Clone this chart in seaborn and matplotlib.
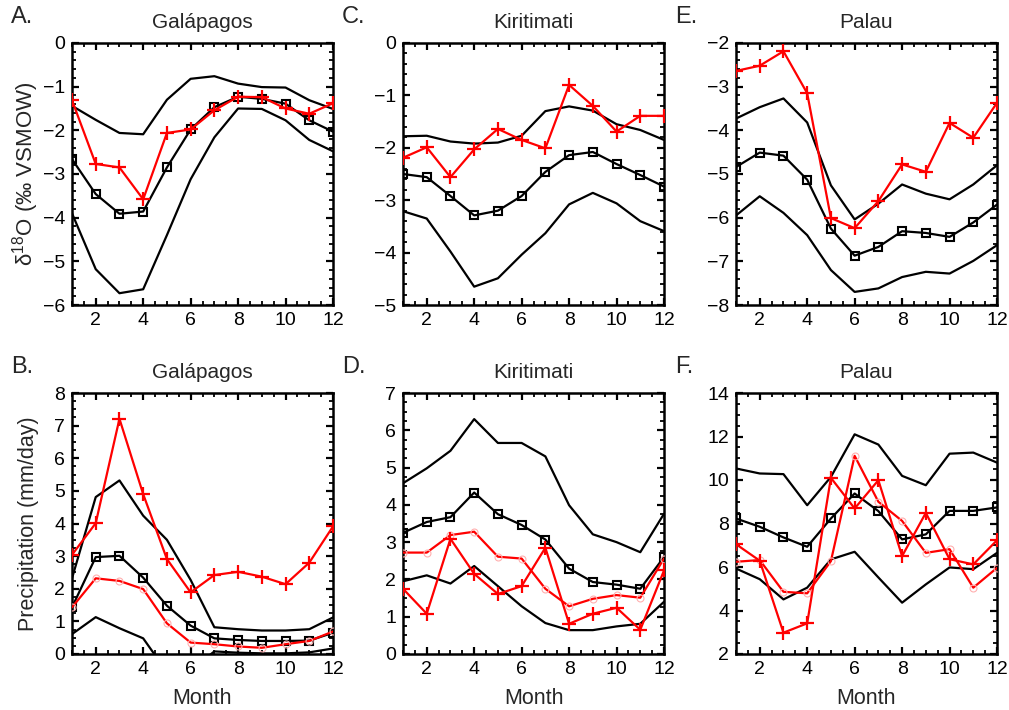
import numpy as np
import pandas as pd
import matplotlib
matplotlib.use("Agg")
import matplotlib.pyplot as plt
from matplotlib.ticker import MultipleLocator
import seaborn as sns

months = list(range(1, 13))

# ---- delta 18O (per mil VSMOW) ----
gal_d18o_hi = [-1.44, -1.76, -2.06, -2.09, -1.30, -0.82, -0.76, -0.93, -1.01, -1.02, -1.31, -1.51]
gal_d18o_mean = [-2.66, -3.46, -3.91, -3.86, -2.85, -1.98, -1.47, -1.23, -1.28, -1.39, -1.77, -2.03]
gal_d18o_lo = [-3.90, -5.18, -5.73, -5.64, -4.40, -3.12, -2.16, -1.50, -1.51, -1.77, -2.22, -2.48]
gal_d18o_obs = [-1.31, -2.77, -2.85, -3.58, -2.06, -1.98, -1.54, -1.23, -1.24, -1.50, -1.62, -1.38]

kir_d18o_hi = [-1.78, -1.77, -1.88, -1.92, -1.90, -1.77, -1.30, -1.21, -1.29, -1.55, -1.66, -1.85]
kir_d18o_mean = [-2.50, -2.56, -2.92, -3.29, -3.20, -2.92, -2.46, -2.14, -2.08, -2.31, -2.52, -2.74]
kir_d18o_lo = [-3.21, -3.35, -3.98, -4.65, -4.49, -4.04, -3.63, -3.08, -2.86, -3.06, -3.40, -3.59]
kir_d18o_obs = [-2.19, -1.99, -2.56, -2.03, -1.64, -1.85, -2.01, -0.80, -1.20, -1.69, -1.39, -1.39]

pal_d18o_hi = [-3.73, -3.47, -3.27, -3.82, -5.26, -6.04, -5.68, -5.24, -5.45, -5.58, -5.24, -4.80]
pal_d18o_mean = [-4.84, -4.51, -4.58, -5.13, -6.25, -6.87, -6.67, -6.31, -6.35, -6.44, -6.11, -5.70]
pal_d18o_lo = [-5.95, -5.51, -5.89, -6.40, -7.20, -7.70, -7.62, -7.36, -7.24, -7.28, -6.99, -6.63]
pal_d18o_obs = [-2.64, -2.52, -2.19, -3.15, -6.01, -6.24, -5.62, -4.78, -4.95, -3.83, -4.17, -3.37]

# ---- precipitation (mm/day) ----
gal_pr_hi = [2.32, 4.81, 5.32, 4.24, 3.50, 2.27, 0.82, 0.76, 0.72, 0.72, 0.76, 1.12]
gal_pr_mean = [1.43, 2.97, 3.01, 2.34, 1.48, 0.87, 0.48, 0.43, 0.40, 0.40, 0.41, 0.65]
gal_pr_lo = [0.61, 1.13, 0.79, 0.48, -0.55, -0.50, 0.08, 0.04, 0.02, 0.02, 0.05, 0.17]
gal_pr_clim = [1.43, 2.32, 2.24, 1.99, 0.94, 0.35, 0.30, 0.23, 0.19, 0.30, 0.40, 0.69]
gal_pr_obs = [3.04, 4.01, 7.21, 4.90, 2.91, 1.89, 2.42, 2.52, 2.37, 2.14, 2.80, 3.91]

kir_pr_hi = [4.58, 4.98, 5.45, 6.30, 5.66, 5.66, 5.30, 3.99, 3.21, 3.00, 2.73, 3.76]
kir_pr_mean = [3.25, 3.54, 3.67, 4.33, 3.75, 3.46, 3.07, 2.29, 1.93, 1.86, 1.75, 2.60]
kir_pr_lo = [1.95, 2.11, 1.89, 2.36, 1.82, 1.28, 0.83, 0.64, 0.64, 0.74, 0.81, 1.40]
kir_pr_clim = [2.72, 2.72, 3.19, 3.28, 2.61, 2.56, 1.75, 1.28, 1.48, 1.58, 1.51, 2.56]
kir_pr_obs = [1.75, 1.08, 3.09, 2.15, 1.61, 1.82, 2.85, 0.81, 1.08, 1.24, 0.65, 2.24]

pal_pr_hi = [10.53, 10.30, 10.27, 8.84, 10.14, 12.10, 11.63, 10.19, 9.76, 11.21, 11.26, 10.80]
pal_pr_mean = [8.23, 7.85, 7.36, 6.93, 8.23, 9.38, 8.57, 7.27, 7.50, 8.58, 8.58, 8.74]
pal_pr_lo = [5.93, 5.44, 4.51, 5.05, 6.35, 6.70, 5.52, 4.36, 5.20, 5.98, 5.90, 6.65]
pal_pr_clim = [6.24, 6.32, 4.86, 4.79, 6.27, 11.11, 9.00, 8.12, 6.65, 6.82, 5.05, 5.96]
pal_pr_obs = [7.05, 6.29, 2.98, 3.41, 10.10, 8.69, 9.99, 6.50, 8.49, 6.36, 6.12, 7.23]

sns.set_style("ticks")
plt.rcParams["font.family"] = ["Liberation Sans", "DejaVu Sans"]
plt.rcParams["mathtext.fontset"] = "custom"
plt.rcParams["mathtext.rm"] = "Liberation Sans"
plt.rcParams["mathtext.it"] = "Liberation Sans:italic"

fig = plt.figure(figsize=(10.09, 7.10), dpi=100)

W = 1009.0
H = 710.0
lefts = [72, 403, 736]
aw = 261
top_row = (43, 305)
bot_row = (393, 654)


def make_ax(col, row):
    y0, y1 = row
    return fig.add_axes([lefts[col] / W, 1 - y1 / H, aw / W, (y1 - y0) / H])


def draw(ax, x, y, color, marker=None, ms=6, mfc="none", mec=None, mew=1.5, zorder=2):
    df = pd.DataFrame({"Month": x, "value": y})
    kw = {}
    if marker is not None:
        kw = dict(marker=marker, markersize=ms, markerfacecolor=mfc,
                  markeredgecolor=mec if mec is not None else color,
                  markeredgewidth=mew)
    sns.lineplot(data=df, x="Month", y="value", ax=ax, color=color,
                 linewidth=1.6, zorder=zorder, **kw)


def style_ax(ax, ylim, ymajor, yminor, title, letter, xlabel):
    ax.set_xlim(1, 12)
    ax.set_ylim(*ylim)
    ax.xaxis.set_major_locator(MultipleLocator(2))
    ax.xaxis.set_minor_locator(MultipleLocator(0.5))
    ax.yaxis.set_major_locator(MultipleLocator(ymajor))
    ax.yaxis.set_minor_locator(MultipleLocator(yminor))
    ax.tick_params(which="both", direction="in", top=True, right=True,
                   labelsize=14, colors="black", pad=5)
    ax.tick_params(which="major", length=5, width=1.6)
    ax.tick_params(which="minor", length=3, width=1.3)
    for s in ax.spines.values():
        s.set_linewidth(1.8)
        s.set_color("black")
    ax.set_title(title, fontsize=15, pad=11)
    ax.set_xlabel(xlabel, fontsize=15.5, labelpad=7)
    ax.set_ylabel("")
    bb = ax.get_position()
    fig.text(bb.x0 - 61 / W, bb.y1 + 15 / H, letter, fontsize=17,
             ha="left", va="bottom")


d18o_panels = [
    (gal_d18o_hi, gal_d18o_mean, gal_d18o_lo, gal_d18o_obs, (-6, 0), "Galápagos", "A."),
    (kir_d18o_hi, kir_d18o_mean, kir_d18o_lo, kir_d18o_obs, (-5, 0), "Kiritimati", "C."),
    (pal_d18o_hi, pal_d18o_mean, pal_d18o_lo, pal_d18o_obs, (-8, -2), "Palau", "E."),
]

for col, (hi, mean, lo, obs, ylim, title, letter) in enumerate(d18o_panels):
    ax = make_ax(col, top_row)
    draw(ax, months, hi, "black")
    draw(ax, months, lo, "black")
    draw(ax, months, mean, "black", marker="s", ms=6)
    draw(ax, months, obs, "#ff0000", marker="+", ms=10, mew=1.6, zorder=3)
    style_ax(ax, ylim, 1, 0.2, title, letter, "")
    if col == 0:
        ax.set_ylabel("δ$^{18}$O (‰ VSMOW)", fontsize=16, labelpad=1)

pr_panels = [
    (gal_pr_hi, gal_pr_mean, gal_pr_lo, gal_pr_clim, gal_pr_obs, (0, 8), 1, 0.25, "Galápagos", "B."),
    (kir_pr_hi, kir_pr_mean, kir_pr_lo, kir_pr_clim, kir_pr_obs, (0, 7), 1, 0.25, "Kiritimati", "D."),
    (pal_pr_hi, pal_pr_mean, pal_pr_lo, pal_pr_clim, pal_pr_obs, (2, 14), 2, 0.5, "Palau", "F."),
]

for col, (hi, mean, lo, clim, obs, ylim, maj, mnr, title, letter) in enumerate(pr_panels):
    ax = make_ax(col, bot_row)
    draw(ax, months, hi, "black")
    draw(ax, months, lo, "black")
    draw(ax, months, mean, "black", marker="s", ms=6)
    draw(ax, months, clim, "#ff0000", marker="o", ms=5, mec="#ffb0b0", mew=0.8, zorder=3)
    draw(ax, months, obs, "#ff0000", marker="+", ms=10, mew=1.6, zorder=3)
    style_ax(ax, ylim, maj, mnr, title, letter, "Month")
    if col == 0:
        ax.set_ylabel("Precipitation (mm/day)", fontsize=15.5, labelpad=11)

fig.savefig("out.png", dpi=100)
